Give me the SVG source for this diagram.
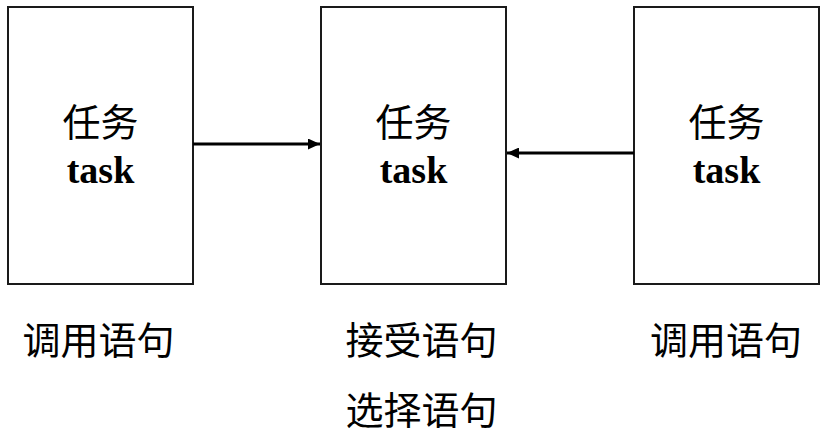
<svg xmlns="http://www.w3.org/2000/svg" width="831" height="434" viewBox="0 0 831 434">
<style>
.box{fill:#fff;stroke:#1a1a1a;stroke-width:2}
.cn{font-family:"Liberation Serif","Noto Sans CJK SC",serif;font-size:38px;fill:#000;text-anchor:middle}
.en{font-family:"Liberation Serif","Noto Sans CJK SC",serif;font-size:38px;font-weight:bold;fill:#000;text-anchor:middle}
.conn{stroke:#000;stroke-width:2.8;fill:none}
</style>
<defs>
<marker id="arr" markerUnits="userSpaceOnUse" markerWidth="13" markerHeight="11" refX="12" refY="5.5" orient="auto">
<path d="M0,0 L12,5.5 L0,11 Z" fill="#000"/>
</marker>
</defs>
<rect width="831" height="434" fill="#fff"/>
<g id="task1">
<rect class="box" x="8" y="7" width="185" height="277"/>
<text class="cn" x="100.5" y="136">任务</text>
<text class="en" x="100.5" y="183">task</text>
</g>
<g id="task2">
<rect class="box" x="321" y="7" width="185" height="277"/>
<text class="cn" x="413.5" y="136">任务</text>
<text class="en" x="413.5" y="183">task</text>
</g>
<g id="task3">
<rect class="box" x="634" y="7" width="185" height="277"/>
<text class="cn" x="726.5" y="136">任务</text>
<text class="en" x="726.5" y="183">task</text>
</g>
<g id="connectors">
<line class="conn" x1="193" y1="144" x2="320" y2="144" marker-end="url(#arr)"/>
<line class="conn" x1="634" y1="153" x2="507" y2="153" marker-end="url(#arr)"/>
</g>
<g id="labels">
<text class="cn" x="98.5" y="354">调用语句</text>
<text class="cn" x="421.5" y="354">接受语句</text>
<text class="cn" x="421.5" y="424">选择语句</text>
<text class="cn" x="726" y="354">调用语句</text>
</g>
</svg>
